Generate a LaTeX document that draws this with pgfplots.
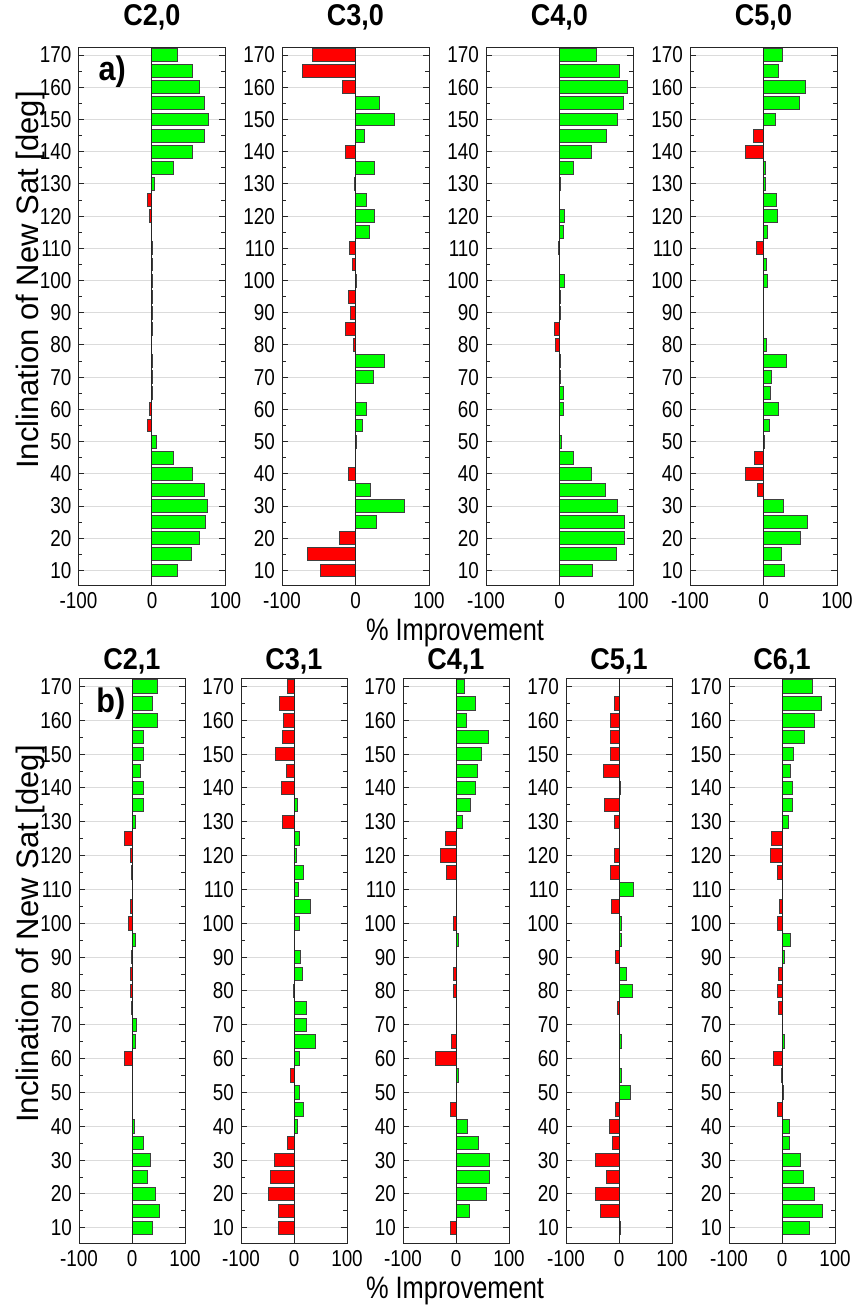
\documentclass[border=0pt]{standalone}
\usepackage{fontspec}
\setmainfont{Liberation Sans}[FakeStretch=0.82]
\newfontfamily\ylabfont{Liberation Sans}
\newfontfamily\titlefont{Liberation Sans}[FakeStretch=0.9]
\usepackage{pgfplots}
\usepackage{pgfplotstable}
\pgfplotsset{compat=1.18}
\definecolor{mgreen}{RGB}{0,255,0}
\definecolor{mred}{RGB}{255,0,0}
\definecolor{axgray}{RGB}{38,38,38}

\pgfplotstableread{
y   C20   C30   C40   C50
170 35    -58   50    26
165 55.5  -72   82    20
160 64.7  -18   92    56.6
155 71.6  32    86.5  49
150 77.5  53    79.5  16
145 71.6  12    63.5  -14
140 55    -14   43.5  -24
135 29.4  26    19.6  3
130 4     -1    1     2.5
125 -5.5  15    0.3   17
120 -4    26    6.5   18.4
115 -0.5  19    5     5
110 0.3   -7.5  -1.5  -9
105 0.3   -4    -0.5  4.2
100 1     2     6.5   5
95  1     -10   2     0.5
90  1     -7    1     0.2
85  0.3   -13   -6.5  0.3
80  -0.5  -2.5  -6    3.8
75  0.3   40    2     31.6
70  0.3   24    1     11.3
65  0.2   0.5   5     10
60  -4    15    6     19.8
55  -6    10    0.3   8.5
50  6     2     2.5   1
45  29    0.3   19.6  -12
40  55    -10   43    -24
35  71    20.5  62    -8
30  75    66    79.5  27.8
25  73    28    89    59.4
20  64    -22   89    51
15  54    -65.5 77    24
10  35    -48   45    29.2
}\toprow

\pgfplotstableread{
y   C21   C31   C41   C51   C61
170 48    -11.5 15.6  0     57
165 38.6  -27.6 37.5  -8.3  75
160 47.5  -19   20.6  -16.7 61
155 21    -22   62    -15.4 42
150 21    -34.6 48    -16   21
145 16    -13.5 41    -30   15.3
140 21    -23   37.5  2.6   19
135 22    6.4   27    -28   19
130 6.3   -22.4 12.5  -7.7  12
125 -14   11    -20.6 0.3   -19
120 -3    3.8   -29.4 -8.3  -21
115 -1    18.6  -18.8 -16   -9
110 1     8.3   0.3   27    1
105 -3    30.8  0.3   -13.5 -4.5
100 -7    9.6   -4.4  5     -7.6
95  7     1     3.8   5     15.3
90  -1    12    0.3   -6.4  3.8
85  -3    15.4  -5.6  13.5  -5.7
80  -3    -1    -3.8  26    -7.6
75  -1    23    1.5   -3.2  -7
70  7.6   23    1.5   0.5   1
65  5.7   39.7  -8.8  5     4.5
60  -14   9.6   -38   0.3   -15.3
55  0.3   -5.8  3.8   5     -0.5
50  0.3   9.6   1.5   21    3.2
45  0.3   18.6  -10   -6.4  -7.6
40  3.8   6.4   21    -17.3 14
35  21.5  -11.5 43    -12   14
30  34    -36   64    -45   34.4
25  28.5  -45   62.5  -23.7 40.8
20  43.7  -48   58    -44   61
15  51    -29   26    -34   77
10  39    -29   -10   3.2   51
}\botrow

\pgfplotsset{
  panel/.style={
    scale only axis, width=73.5pt, height=269pt,
    xmin=-100, xmax=100, ymin=5.5, ymax=172.5,
    xtick={-100,0,100}, xticklabels={-100,0,100},
    ytick={10,20,...,170}, minor ytick={15,25,...,165},
    ymajorgrids, major grid style={black!14, line width=0.5pt},
    tick align=inside,
    axis line style={axgray, line width=0.5pt},
    major tick style={axgray, line width=0.5pt},
    minor tick style={axgray, line width=0.5pt},
    major tick length=3pt, minor tick length=2pt,
    /pgf/number format/assume math mode=true,
    tick label style={font=\fontsize{11.5}{13}\selectfont},
    title style={font=\titlefont\fontsize{15}{17}\selectfont\bfseries, yshift=-1pt},
  },
  panelb/.style={panel, width=53pt, height=282.5pt,
    title style={yshift=-6.5pt}},
}

\newcommand{\bars}[2]{%
  \addplot[xbar, bar width=4, bar shift=0pt, fill=mgreen, draw=black!75, line width=0.5pt, restrict x to domain=0:200] table[x=#2, y=y] {#1};
  \addplot[xbar, bar width=4, bar shift=0pt, fill=mred, draw=black!75, line width=0.5pt, restrict x to domain=-200:0] table[x=#2, y=y] {#1};
  \draw[axgray, line width=0.5pt] (axis cs:0,5.5) -- (axis cs:0,172.5);
}

\begin{document}
\begin{tikzpicture}
\useasboundingbox (0,0) rectangle (430pt,-653pt);

% top row
\begin{axis}[panel, at={(39.25pt,-292.5pt)}, anchor=south west, title={C2,0}]
\bars{\toprow}{C20}
\node[font=\titlefont\fontsize{17}{18}\selectfont\bfseries] at (rel axis cs:0.23,0.955) {a)};
\end{axis}
\begin{axis}[panel, at={(141pt,-292.5pt)}, anchor=south west, title={C3,0}]
\bars{\toprow}{C30}
\end{axis}
\begin{axis}[panel, at={(243pt,-292.5pt)}, anchor=south west, title={C4,0}]
\bars{\toprow}{C40}
\end{axis}
\begin{axis}[panel, at={(345pt,-292.5pt)}, anchor=south west, title={C5,0}]
\bars{\toprow}{C50}
\end{axis}

% bottom row
\begin{axis}[panelb, at={(39.5pt,-621.5pt)}, anchor=south west, title={C2,1}]
\bars{\botrow}{C21}
\node[font=\titlefont\fontsize{17}{18}\selectfont\bfseries] at (rel axis cs:0.3,0.955) {b)};
\end{axis}
\begin{axis}[panelb, at={(120.5pt,-621.5pt)}, anchor=south west, title={C3,1}]
\bars{\botrow}{C31}
\end{axis}
\begin{axis}[panelb, at={(201.5pt,-621.5pt)}, anchor=south west, title={C4,1}]
\bars{\botrow}{C41}
\end{axis}
\begin{axis}[panelb, at={(283pt,-621.5pt)}, anchor=south west, title={C5,1}]
\bars{\botrow}{C51}
\end{axis}
\begin{axis}[panelb, at={(364.5pt,-621.5pt)}, anchor=south west, title={C6,1}]
\bars{\botrow}{C61}
\end{axis}

% labels
\node[font=\fontsize{15.5}{16}\selectfont, inner sep=1pt] at (227.5pt,-316.5pt) {\% Improvement};
\node[font=\fontsize{15.5}{16}\selectfont, inner sep=1pt] at (227.5pt,-645.5pt) {\% Improvement};
\node[font=\ylabfont\fontsize{15.5}{16}\selectfont, rotate=90] at (15pt,-140pt) {Inclination of New Sat [deg]};
\node[font=\ylabfont\fontsize{15.5}{16}\selectfont, rotate=90] at (15pt,-467pt) {Inclination of New Sat [deg]};
\end{tikzpicture}
\end{document}
